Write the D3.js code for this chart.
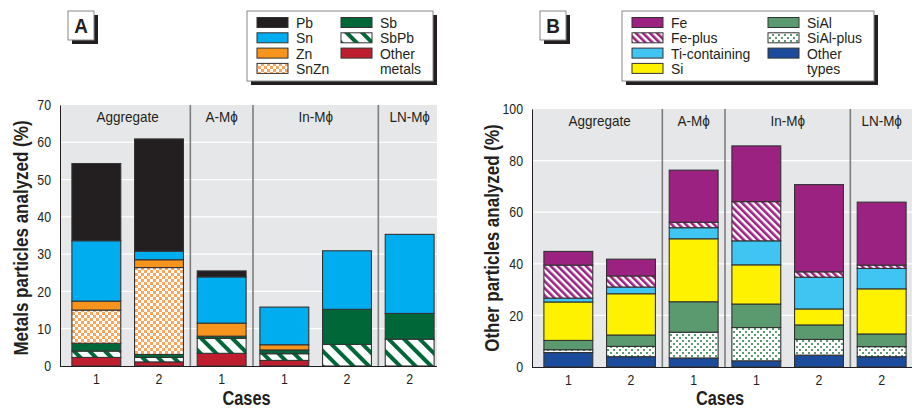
<!DOCTYPE html>
<html>
<head>
<meta charset="utf-8">
<script src="https://cdn.jsdelivr.net/npm/d3@7"></script>
<style>
  body { margin: 0; background: #fff; }
  svg text { font-family: "Liberation Sans", Arial, sans-serif; fill: #231f20; }
</style>
</head>
<body>
<svg id="chart" width="919" height="408"></svg>
<script>
// Daten
var cases = ["1", "2", "1", "1", "2", "2"];
var groupNames = ["Aggregate", "A-M\u03d5", "In-M\u03d5", "LN-M\u03d5"];
var barGroup = [0, 0, 1, 2, 2, 3];

// Panel A, metals (bottom to top)
var otherMetals = [2.3, 1.1, 3.4, 1.5, 0, 0];
var sbPb = [1.7, 1.2, 4.0, 1.8, 5.8, 7.2];
var sb = [2.1, 0.8, 0.6, 1.0, 9.4, 6.9];
var snZn = [8.9, 23.3, 0, 0, 0, 0];
var zn = [2.4, 2.1, 3.5, 1.4, 0, 0];
var sn = [16.2, 2.3, 12.4, 10.1, 15.7, 21.2];
var pb = [20.7, 30.1, 1.6, 0, 0, 0];
var ticksA = [0, 10, 20, 30, 40, 50, 60, 70];

// Panel B, other particles (bottom to top)
var otherTypes = [5.6, 4.0, 3.5, 2.4, 4.6, 4.0];
var siAlPlus = [1.1, 4.0, 10.0, 12.9, 6.1, 3.9];
var siAl = [3.6, 4.4, 11.8, 9.1, 5.6, 4.9];
var si = [14.9, 16.0, 24.4, 15.2, 6.2, 17.5];
var ti = [1.5, 2.6, 4.3, 9.3, 12.3, 7.9];
var fePlus = [12.8, 4.3, 2.1, 15.2, 2.1, 1.3];
var fe = [5.3, 6.5, 20.2, 21.6, 33.8, 24.4];
var ticksB = [0, 20, 40, 60, 80, 100];

var svg = d3.select("#chart");
var defs = svg.append("defs");

// patterns
var p = defs.append("pattern").attr("id", "snzn").attr("patternUnits", "userSpaceOnUse")
    .attr("width", 6).attr("height", 6);
p.append("rect").attr("width", 6).attr("height", 6).attr("fill", "#fff");
p.append("rect").attr("width", 3).attr("height", 3).attr("fill", "#f9a65c");
p.append("rect").attr("x", 3).attr("y", 3).attr("width", 3).attr("height", 3).attr("fill", "#f9a65c");

p = defs.append("pattern").attr("id", "sbpb").attr("patternUnits", "userSpaceOnUse")
    .attr("width", 11).attr("height", 11).attr("patternTransform", "rotate(-45)");
p.append("rect").attr("width", 11).attr("height", 11).attr("fill", "#fff");
p.append("rect").attr("width", 4).attr("height", 11).attr("fill", "#006838");

p = defs.append("pattern").attr("id", "feplus").attr("patternUnits", "userSpaceOnUse")
    .attr("width", 5).attr("height", 5).attr("patternTransform", "rotate(-45)");
p.append("rect").attr("width", 5).attr("height", 5).attr("fill", "#fff");
p.append("rect").attr("width", 2.6).attr("height", 5).attr("fill", "#9b2281");

p = defs.append("pattern").attr("id", "sialplus").attr("patternUnits", "userSpaceOnUse")
    .attr("width", 6).attr("height", 6);
p.append("rect").attr("width", 6).attr("height", 6).attr("fill", "#fff");
p.append("rect").attr("x", 1).attr("y", 1).attr("width", 2).attr("height", 2).attr("fill", "#5a9a6e");
p.append("rect").attr("x", 4).attr("y", 4).attr("width", 2).attr("height", 2).attr("fill", "#5a9a6e");

// condensed text: scale x around the anchor point
function label(parent, x, y, str, size, sx, anchor, bold, rot) {
    return parent.append("text")
        .attr("transform", "translate(" + x + "," + y + ")" + (rot ? " rotate(" + rot + ")" : "") + " scale(" + sx + ",1)")
        .attr("text-anchor", anchor || "start")
        .attr("font-size", size)
        .attr("font-weight", bold ? "bold" : null)
        .text(str);
}

function rows(series) {
    return cases.map(function (c, i) {
        var r = { i: i };
        series.forEach(function (s) { r[s.key] = s.values[i]; });
        return r;
    });
}

function drawPanel(cfg) {
    var g = svg.append("g");
    var x = d3.scaleBand().domain(d3.range(cases.length)).range(cfg.xRange).paddingInner(0.22).paddingOuter(0.11);
    var y = d3.scaleLinear().domain(cfg.yDomain).range(cfg.yRange);
    var bw = x.bandwidth();
    var top = y(cfg.yDomain[1]);

    // background + grid
    g.append("rect").attr("x", cfg.left).attr("y", top)
        .attr("width", cfg.right - cfg.left).attr("height", y(0) - top)
        .attr("fill", "#e6e7e8");
    g.append("g").selectAll("line").data(cfg.ticks.slice(1, -1)).join("line")
        .attr("x1", cfg.left).attr("x2", cfg.right)
        .attr("y1", function (d) { return y(d); }).attr("y2", function (d) { return y(d); })
        .attr("stroke", "#fff").attr("stroke-width", 1.2);

    // group dividers
    var divs = [];
    for (var b = 1; b < cases.length; b++) {
        if (barGroup[b] !== barGroup[b - 1]) divs.push((x(b) + x(b - 1) + bw) / 2);
    }
    g.append("g").selectAll("line").data(divs).join("line")
        .attr("x1", function (d) { return d; }).attr("x2", function (d) { return d; })
        .attr("y1", top).attr("y2", y(0))
        .attr("stroke", "#7d7d7d").attr("stroke-width", 1.6);

    // group labels
    groupNames.forEach(function (name, k) {
        var idx = d3.range(cases.length).filter(function (b) { return barGroup[b] === k; });
        var cx = (x(idx[0]) + x(idx[idx.length - 1]) + bw) / 2;
        label(g, cx, top + 17, name, 15, 0.9, "middle");
    });

    // stacked bars
    var keys = cfg.series.map(function (s) { return s.key; });
    var stacked = d3.stack().keys(keys)(rows(cfg.series));
    g.append("g").selectAll("g").data(stacked).join("g")
        .attr("fill", function (d, k) { return cfg.series[k].fill; })
        .selectAll("rect").data(function (d) { return d.filter(function (v) { return v[1] - v[0] > 0; }); })
        .join("rect")
        .attr("x", function (d) { return x(d.data.i); })
        .attr("width", bw)
        .attr("y", function (d) { return y(d[1]); })
        .attr("height", function (d) { return y(d[0]) - y(d[1]); })
        .attr("stroke", "#333").attr("stroke-width", 1.1);

    // axes
    var yAxis = g.append("g").attr("transform", "translate(" + cfg.left + ",0)")
        .call(d3.axisLeft(y).tickValues(cfg.ticks).tickSize(0).tickPadding(9));
    yAxis.select(".domain").attr("stroke", "#231f20");
    yAxis.selectAll("text").attr("font-size", 14.5).attr("font-family", null)
        .attr("x", -9 / 0.85).attr("transform", "scale(0.85,1)");

    var xAxis = g.append("g").attr("transform", "translate(0," + y(0) + ")")
        .call(d3.axisBottom(x).tickSize(0).tickPadding(8).tickFormat(function (d) { return cases[d]; }));
    xAxis.select(".domain").attr("d", "M" + cfg.left + ",0.5H" + cfg.right).attr("stroke", "#231f20");
    xAxis.selectAll("text").attr("font-size", 14.5).attr("font-family", null).attr("transform", "scale(0.85,1)");

    label(g, (cfg.left + cfg.right) / 2 - 2, 405, "Cases", 21, 0.78, "middle", true);
    label(g, cfg.titleX, 238, cfg.title, 20, 0.85, "middle", true, -90);

    // panel letter box
    g.append("rect").attr("x", cfg.letterX + 4).attr("y", 15).attr("width", 26).attr("height", 29).attr("fill", "#231f20");
    g.append("rect").attr("x", cfg.letterX).attr("y", 11).attr("width", 26).attr("height", 29)
        .attr("fill", "#fff").attr("stroke", "#888").attr("stroke-width", 1);
    label(g, cfg.letterX + 13, 33, cfg.letter, 21, 0.9, "middle", true);

    // legend
    var L = cfg.legend;
    g.append("rect").attr("x", L.x + 4).attr("y", 15).attr("width", L.w).attr("height", 70).attr("fill", "#231f20");
    g.append("rect").attr("x", L.x).attr("y", 11).attr("width", L.w).attr("height", 70)
        .attr("fill", "#fff").attr("stroke", "#888").attr("stroke-width", 1);
    L.items.forEach(function (d) {
        var lx = L.x + L.cols[d.col], ly = 22.5 + d.row * 15.3;
        var s = cfg.series.find(function (s) { return s.key === d.key; });
        g.append("rect").attr("x", lx).attr("y", ly - 5).attr("width", 31).attr("height", 10)
            .attr("fill", s.fill).attr("stroke", "#333").attr("stroke-width", 1);
        d.lines.forEach(function (t, j) {
            label(g, lx + 39, ly + 5.5 + j * 15.3, t, 15, 0.93, "start");
        });
    });
}

drawPanel({
    xRange: [65, 441], left: 60, right: 437,
    yDomain: [0, 70], yRange: [366, 105], ticks: ticksA,
    title: "Metals particles analyzed (%)", titleX: 28,
    letter: "A", letterX: 68,
    series: [
        { key: "Other metals", values: otherMetals, fill: "#be1e2d" },
        { key: "SbPb", values: sbPb, fill: "url(#sbpb)" },
        { key: "Sb", values: sb, fill: "#006838" },
        { key: "SnZn", values: snZn, fill: "url(#snzn)" },
        { key: "Zn", values: zn, fill: "#f7941d" },
        { key: "Sn", values: sn, fill: "#00aeef" },
        { key: "Pb", values: pb, fill: "#231f20" }
    ],
    legend: {
        x: 247, w: 186, cols: [10, 94],
        items: [
            { key: "Pb", lines: ["Pb"], col: 0, row: 0 },
            { key: "Sn", lines: ["Sn"], col: 0, row: 1 },
            { key: "Zn", lines: ["Zn"], col: 0, row: 2 },
            { key: "SnZn", lines: ["SnZn"], col: 0, row: 3 },
            { key: "Sb", lines: ["Sb"], col: 1, row: 0 },
            { key: "SbPb", lines: ["SbPb"], col: 1, row: 1 },
            { key: "Other metals", lines: ["Other", "metals"], col: 1, row: 2 }
        ]
    }
});

drawPanel({
    xRange: [537, 913], left: 532, right: 912,
    yDomain: [0, 100], yRange: [367, 109], ticks: ticksB,
    title: "Other particles analyzed (%)", titleX: 499,
    letter: "B", letterX: 540,
    series: [
        { key: "Other types", values: otherTypes, fill: "#1b4b9b" },
        { key: "SiAl-plus", values: siAlPlus, fill: "url(#sialplus)" },
        { key: "SiAl", values: siAl, fill: "#5a9a6e" },
        { key: "Si", values: si, fill: "#fff200" },
        { key: "Ti-containing", values: ti, fill: "#40c4f1" },
        { key: "Fe-plus", values: fePlus, fill: "url(#feplus)" },
        { key: "Fe", values: fe, fill: "#9b2281" }
    ],
    legend: {
        x: 622, w: 252, cols: [10, 146],
        items: [
            { key: "Fe", lines: ["Fe"], col: 0, row: 0 },
            { key: "Fe-plus", lines: ["Fe-plus"], col: 0, row: 1 },
            { key: "Ti-containing", lines: ["Ti-containing"], col: 0, row: 2 },
            { key: "Si", lines: ["Si"], col: 0, row: 3 },
            { key: "SiAl", lines: ["SiAl"], col: 1, row: 0 },
            { key: "SiAl-plus", lines: ["SiAl-plus"], col: 1, row: 1 },
            { key: "Other types", lines: ["Other", "types"], col: 1, row: 2 }
        ]
    }
});
</script>
</body>
</html>
